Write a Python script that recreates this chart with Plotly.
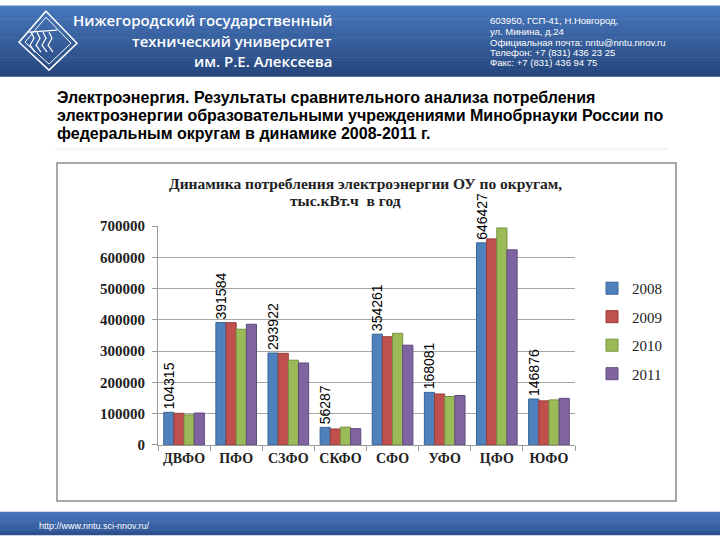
import plotly.graph_objects as go

# ---- data ----
districts = ["ДВФО", "ПФО", "СЗФО", "СКФО", "СФО", "УФО", "ЦФО", "ЮФО"]
years = ["2008", "2009", "2010", "2011"]
v2008 = [104315, 391584, 293922, 56287, 354261, 168081, 646427, 146876]
v2009 = [101000, 391000, 293000, 51000, 346000, 163000, 659000, 141000]
v2010 = [96000, 370000, 271000, 57000, 357000, 155000, 694000, 144000]
v2011 = [102000, 386000, 262000, 52000, 319000, 158000, 624000, 149000]
y_ticks = [0, 100000, 200000, 300000, 400000, 500000, 600000, 700000]

series = [v2008, v2009, v2010, v2011]
colors = ["#4f81bd", "#c0504d", "#9bbb59", "#8064a2"]
edges = ["#3a6496", "#983c3a", "#76913f", "#5f4a7d"]

W, H = 720, 540
def px(x):
    return x / W
def pyf(y):
    return 1 - y / H
def py(y_ref):
    # vertical placement measured on the reference picture
    return pyf((y_ref - 7.8) / 0.971)

fig = go.Figure()
for i, (yr, vals) in enumerate(zip(years, series)):
    fig.add_trace(go.Bar(
        x=districts, y=vals, name=yr, legendgroup=yr,
        marker=dict(color=colors[i], line=dict(color=edges[i], width=1)),
        text=[str(v) for v in vals] if i == 0 else None,
        textposition="outside" if i == 0 else "none",
        textangle=-90,
        textfont=dict(family="Liberation Sans, Arial", size=14, color="#000"),
        cliponaxis=False,
        constraintext="none",
        hoverinfo="x+y+name",
    ))

shapes = []
# header gradient bands
top_c = (74, 122, 192)
bot_c = (39, 72, 127)
nb = 16
hh = 76
for k in range(nb):
    t = k / (nb - 1)
    c = tuple(int(top_c[j] + (bot_c[j] - top_c[j]) * t) for j in range(3))
    shapes.append(dict(type="rect", xref="paper", yref="paper",
                       x0=0, x1=1, y0=py(hh * (k + 1) / nb + 0.5), y1=min(1, py(hh * k / nb - 10 * (k == 0))),
                       fillcolor="rgb(%d,%d,%d)" % c, line=dict(width=0), layer="below"))
# footer bands
ft_top = (70, 115, 185)
ft_bot = (45, 80, 140)
for k in range(6):
    t = k / 5
    c = tuple(int(ft_top[j] + (ft_bot[j] - ft_top[j]) * t) for j in range(3))
    y0 = 512 + 28 * k / 6
    y1 = 512 + 28 * (k + 1) / 6 + 0.5 + (20 if k == 5 else 0)
    shapes.append(dict(type="rect", xref="paper", yref="paper",
                       x0=0, x1=1, y0=max(0, py(y1)), y1=py(y0),
                       fillcolor="rgb(%d,%d,%d)" % c, line=dict(width=0), layer="below"))

# logo (diamond with waves)
def path(points, close=True):
    s = "M" + " L".join("%f,%f" % (px(a), py(b)) for a, b in points)
    return s + (" Z" if close else "")
shapes.append(dict(type="path", xref="paper", yref="paper",
                   path=path([(46, 11), (77, 43), (49, 70), (19, 42)]),
                   line=dict(color="white", width=1.5)))
shapes.append(dict(type="path", xref="paper", yref="paper",
                   path=path([(46, 17), (71, 43), (49, 64), (25, 42)]),
                   line=dict(color="white", width=1)))
for dx in [0, 6, 12, 18]:
    shapes.append(dict(type="path", xref="paper", yref="paper",
                       path=path([(31 + dx, 32), (34 + dx, 38), (30 + dx, 45), (35 + dx, 52)], close=False),
                       line=dict(color="white", width=1.2)))
shapes.append(dict(type="path", xref="paper", yref="paper",
                   path=path([(29, 32), (57, 30)], close=False),
                   line=dict(color="white", width=1.2)))

# separator line and chart box
shapes.append(dict(type="line", xref="paper", yref="paper",
                   x0=px(55), x1=px(668), y0=py(149), y1=py(149),
                   line=dict(color="#e6ece0", width=1)))
shapes.append(dict(type="rect", xref="paper", yref="paper",
                   x0=px(57), x1=px(676), y0=py(501), y1=py(163),
                   line=dict(color="#8c8c8c", width=1.5), fillcolor="rgba(0,0,0,0)"))

ann = []
def txt(x, y, s, size, color, family, anchor="left", weight="normal"):
    ann.append(dict(x=px(x), y=py(y), xref="paper", yref="paper", text=s,
                    showarrow=False, xanchor=anchor, yanchor="middle",
                    font=dict(size=size, color=color, family=family, weight=weight)))

hf = "Open Sans, Noto Sans, sans-serif"
txt(334, 20, "Нижегородский государственный", 15, "white", hf, "right", 600)
txt(334, 41, "технический университет", 15, "white", hf, "right", 600)
txt(334, 61, "им. Р.Е. Алексеева", 15, "white", hf, "right", 600)
cf = "Liberation Sans, Arial"
for yy, s in zip([20, 31, 42, 52, 62],
                 ["603950, ГСП-41, Н.Новгород,", "ул. Минина, д.24",
                  "Официальная почта: nntu@nntu.nnov.ru",
                  "Телефон: +7 (831) 436 23 25", "Факс: +7 (831) 436 94 75"]):
    txt(488, yy, s, 9.5, "white", cf)
tf = "Liberation Sans, Arial"
for yy, s in zip([97, 115, 133],
                 ["Электроэнергия. Результаты сравнительного анализа потребления",
                  "электроэнергии образовательными учреждениями Минобрнауки России по",
                  "федеральным округам в динамике 2008-2011 г."]):
    txt(55, yy, s, 16, "black", tf, "left", "bold")
sf = "Liberation Serif, Times New Roman"
txt(365, 183, "Динамика потребления электроэнергии ОУ по округам,", 15.5, "#222", sf, "center", "bold")
txt(345, 200, "тыс.кВт.ч  в год", 15.5, "#222", sf, "center", "bold")
txt(37, 526, "http://www.nntu.sci-nnov.ru/", 9, "white", cf)

fig.update_layout(
    width=W, height=H,
    margin=dict(l=0, r=0, t=0, b=0),
    paper_bgcolor="white", plot_bgcolor="white",
    barmode="group", bargap=0.22, bargroupgap=0.0,
    shapes=shapes, annotations=ann,
    showlegend=True,
    legend=dict(x=px(592), y=pyf(272), xanchor="left", yanchor="top",
                font=dict(family=sf, size=15, color="#222"),
                tracegroupgap=6, bgcolor="rgba(0,0,0,0)"),
    xaxis=dict(domain=[px(158), px(575)], showline=True, linecolor="#9a9a9a",
               ticks="outside", tickson="boundaries", ticklen=5, tickcolor="#9a9a9a",
               tickfont=dict(family=sf, size=14, color="#222", weight="bold"),
               tickangle=0,
               showgrid=False, fixedrange=True),
    yaxis=dict(domain=[py(445), py(226)], range=[0, 700000], tickvals=y_ticks,
               ticktext=[str(v) for v in y_ticks],
               showline=True, linecolor="#9a9a9a", ticks="outside", ticklen=5,
               tickcolor="#9a9a9a", gridcolor="#a6a6a6", gridwidth=1,
               tickfont=dict(family=sf, size=15, color="#222", weight="bold"),
               ticklabelstandoff=4, zeroline=False, fixedrange=True),
)

css = ("var s=document.createElement('style');"
       "s.textContent='html,body{margin:0!important;padding:0!important;overflow:hidden!important;}"
       "html{background:linear-gradient(#4a7ac0 0,#4a7ac0 8px,#ffffff 8px,#ffffff calc(100% - 8px),#2d508c calc(100% - 8px));}';"
       "document.head.appendChild(s);")
fig.write_html("out.html", config={"displayModeBar": False}, post_script=css)
